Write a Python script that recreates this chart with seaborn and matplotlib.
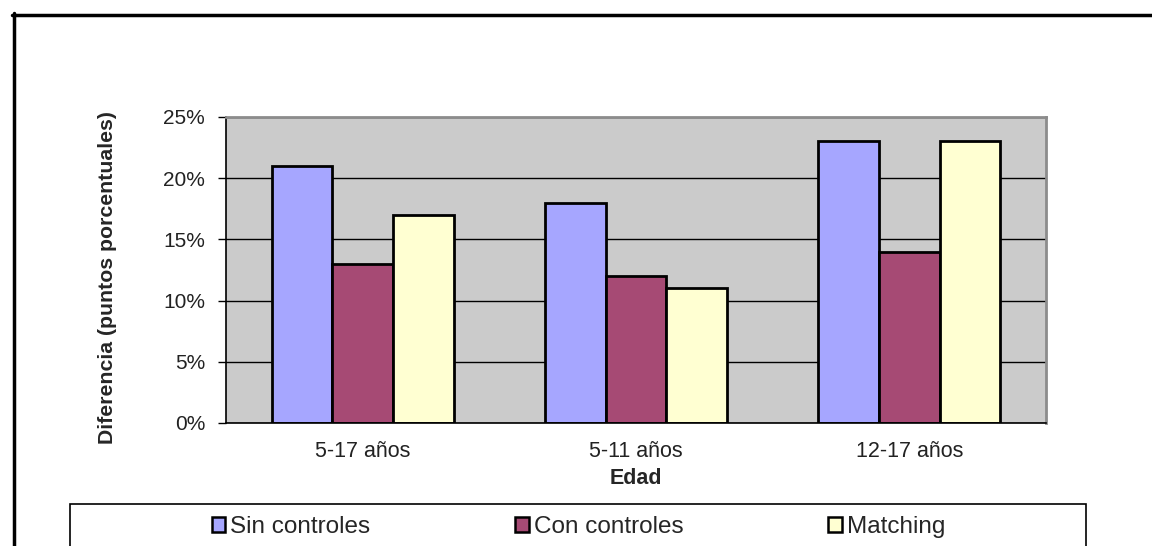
import numpy as np
import pandas as pd
import matplotlib
matplotlib.use("Agg")
import matplotlib.pyplot as plt
import seaborn as sns
from matplotlib.patches import Patch, Rectangle
from matplotlib.lines import Line2D
from matplotlib.ticker import PercentFormatter

# -------- data --------
edades = ["5-17 años", "5-11 años", "12-17 años"]
series = ["Sin controles", "Con controles", "Matching"]
sin_controles = [21, 18, 23]
con_controles = [13, 12, 14]
matching = [17, 11, 23]
colores = ["#A6A6FF", "#A64A74", "#FFFFD2"]

df = pd.DataFrame({
    "Edad": edades * 3,
    "serie": [s for s in series for _ in edades],
    "valor": sin_controles + con_controles + matching,
})

sns.set_theme(style="white")
plt.rcParams["font.family"] = ["Liberation Sans", "DejaVu Sans"]

W, H = 1152, 546
fig = plt.figure(figsize=(W / 100, H / 100), dpi=100)
ax = fig.add_axes([226 / W, 1 - 423 / H, (1046 - 226) / W, (423 - 117) / H])
ax.set_facecolor("#CBCBCB")

sns.barplot(data=df, x="Edad", y="valor", hue="serie", order=edades,
            hue_order=series, palette=colores, saturation=1, width=2 / 3,
            gap=0, edgecolor="black", linewidth=2, legend=False, ax=ax)

ax.set_xlim(-0.5, 2.5)
ax.set_ylim(0, 25)
ax.set_yticks(np.arange(0, 26, 5))
ax.yaxis.set_major_formatter(PercentFormatter(xmax=100, decimals=0))
ax.yaxis.grid(True, color="black", linewidth=1)
ax.set_axisbelow(True)

ax.set_xticks([0, 1, 2])
ax.set_xticks([-0.5, 0.5, 1.5, 2.5], minor=True)
ax.tick_params(axis="x", which="major", length=0, pad=13, labelsize=15.5)
ax.tick_params(axis="x", which="minor", length=6, width=1, direction="out", color="black")
ax.tick_params(axis="y", length=6, width=1, direction="out", color="black",
               pad=9, labelsize=15, left=True)
for lbl in ax.get_xticklabels() + ax.get_yticklabels():
    lbl.set_color("#222222")

for s in ["top", "right"]:
    ax.spines[s].set_color("#8C8C8C")
    ax.spines[s].set_linewidth(2)
for s in ["left", "bottom"]:
    ax.spines[s].set_color("black")
    ax.spines[s].set_linewidth(1.2)

ax.set_xlabel("Edad", fontsize=15.5, fontweight="bold", labelpad=4)
ax.set_ylabel("Diferencia (puntos porcentuales)", fontsize=15.3, fontweight="bold")
ax.yaxis.set_label_coords(-0.133, 0.4755)

# legend box (cut by the bottom edge, as in the reference)
fig.patches.append(Rectangle((70 / W, -0.05), (1086 - 70) / W, 0.05 + 1 - 504 / H,
                             transform=fig.transFigure, facecolor="white",
                             edgecolor="black", linewidth=1.2))
handles = [Patch(facecolor=c, edgecolor="black", linewidth=1.8) for c in colores]
fig.legend(handles, series, loc="center left", ncol=3, mode="expand",
           bbox_to_anchor=(212 / W, 1 - 527 / H, (945 - 212) / W, 0),
           frameon=False, fontsize=17.5, handlelength=0.55, handleheight=0.55,
           handletextpad=0.2, borderpad=0, borderaxespad=0)

# outer frame (top and left edges only are visible)
fig.add_artist(Line2D([12 / W, 1], [1 - 14.5 / H, 1 - 14.5 / H],
                      transform=fig.transFigure, color="black", linewidth=2.5))
fig.add_artist(Line2D([13.5 / W, 13.5 / W], [0, 1 - 13 / H],
                      transform=fig.transFigure, color="black", linewidth=2.5))

fig.savefig("out.png", dpi=100)
